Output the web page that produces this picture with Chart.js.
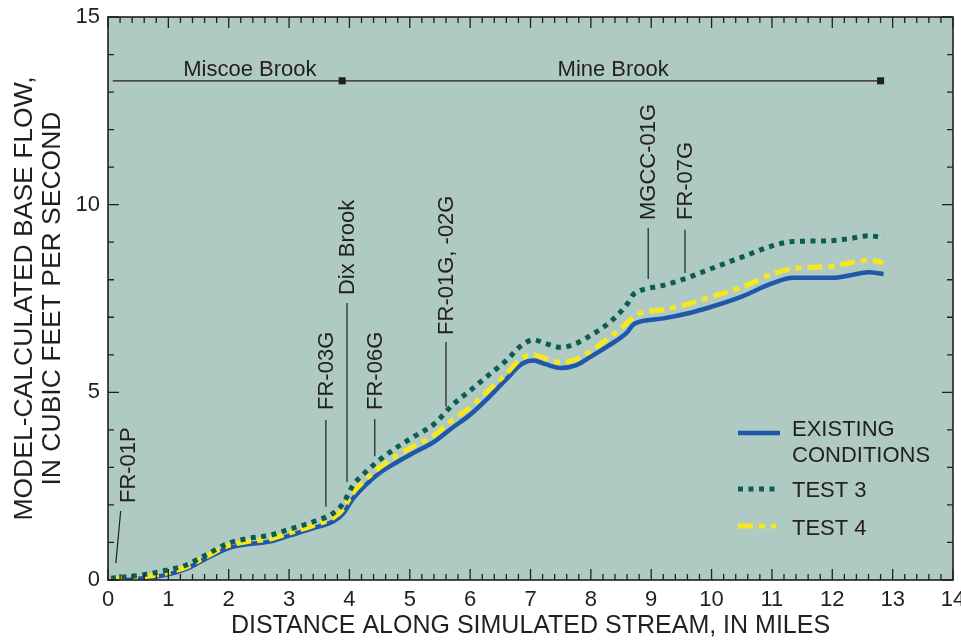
<!DOCTYPE html>
<html>
<head>
<meta charset="utf-8">
<script src="https://cdn.jsdelivr.net/npm/chart.js@4"></script>
<style>
  body { margin: 0; background: #ffffff; }
  #wrap { width: 961px; height: 641px; position: relative; }
</style>
</head>
<body>
<div id="wrap"><canvas id="flowChart"></canvas></div>
<script>
// distance along stream, miles (shared by all three series)
const miles = [0.05, 0.5, 1.0, 1.3, 1.6, 2.0, 2.3, 2.7, 3.0, 3.4, 3.75, 3.9, 4.05, 4.25, 4.5, 4.8, 5.1, 5.4, 5.7,
  6.0, 6.3, 6.6, 6.85, 7.05, 7.25, 7.5, 7.75, 8.0, 8.3, 8.6, 8.7, 8.8, 9.2, 9.6, 10.0, 10.5, 11.0, 11.35, 11.7,
  12.0, 12.3, 12.6, 12.85];

// base flow, cubic feet per second
const existingFlow = [-0.02, 0.03, 0.15, 0.3, 0.55, 0.85, 0.95, 1.03, 1.18, 1.38, 1.58, 1.78, 2.15, 2.5, 2.85, 3.15, 3.42,
  3.68, 4.05, 4.4, 4.85, 5.35, 5.75, 5.85, 5.75, 5.65, 5.72, 5.95, 6.25, 6.6, 6.8, 6.88, 6.97, 7.1, 7.28, 7.55,
  7.9, 8.05, 8.05, 8.05, 8.12, 8.2, 8.15];
const test3Flow = [0.05, 0.12, 0.27, 0.4, 0.65, 0.98, 1.1, 1.2, 1.35, 1.55, 1.8, 2.05, 2.5, 2.85, 3.2, 3.55, 3.85,
  4.15, 4.65, 5.05, 5.45, 5.85, 6.25, 6.4, 6.3, 6.2, 6.3, 6.52, 6.85, 7.35, 7.6, 7.7, 7.85, 8.05, 8.3, 8.6,
  8.9, 9.02, 9.03, 9.04, 9.1, 9.17, 9.12];
const test4Flow = [0.02, 0.07, 0.2, 0.35, 0.6, 0.92, 1.02, 1.1, 1.25, 1.45, 1.68, 1.9, 2.3, 2.65, 3.0, 3.32, 3.6,
  3.85, 4.25, 4.6, 5.05, 5.5, 5.9, 6.0, 5.9, 5.8, 5.88, 6.1, 6.45, 6.85, 7.0, 7.1, 7.2, 7.35, 7.55, 7.8,
  8.15, 8.3, 8.33, 8.36, 8.45, 8.52, 8.45];

// brook reaches: start, break between brooks, end (miles) and level (cfs)
const reachMiles = [0.08, 3.88, 12.8];
const reachLevel = 13.3;
const reachNames = [{ name: 'Miscoe Brook', at: 2.35 }, { name: 'Mine Brook', at: 8.37 }];

// site markers: mile, leader bottom / top, label bottom (cfs)
const sites = [
  { label: 'FR-03G', x: 3.61, y1: 1.95, y2: 4.26, ty: 4.53 },
  { label: 'Dix Brook', x: 3.96, y1: 2.61, y2: 7.38, ty: 7.59 },
  { label: 'FR-06G', x: 4.42, y1: 3.30, y2: 4.29, ty: 4.53 },
  { label: 'FR-01G, -02G', x: 5.6, y1: 4.61, y2: 6.34, ty: 6.53 },
  { label: 'MGCC-01G', x: 8.95, y1: 8.02, y2: 9.38, ty: 9.59 },
  { label: 'FR-07G', x: 9.56, y1: 8.18, y2: 9.33, ty: 9.59 }
];

const FONT = '"Liberation Sans", Arial, Helvetica, sans-serif';
const INK = '#231f20';
const BLUE = '#1f58a8';
const GREEN = '#0a5d50';
const YELLOW = '#f7e81e';

const pts = vals => miles.map((m, i) => ({ x: m, y: vals[i] }));

const decor = {
  id: 'decor',
  beforeDraw(chart) {
    const { ctx, chartArea: a } = chart;
    ctx.save();
    ctx.fillStyle = '#afc9c3';
    ctx.fillRect(a.left, a.top, a.right - a.left, a.bottom - a.top);
    ctx.restore();
  },
  afterDraw(chart) {
    const { ctx, chartArea: a, scales: { x, y } } = chart;
    ctx.save();
    ctx.strokeStyle = INK;
    ctx.fillStyle = INK;

    // frame
    ctx.lineWidth = 1.6;
    ctx.strokeRect(a.left, a.top, a.right - a.left, a.bottom - a.top);

    // inward ticks
    ctx.lineWidth = 1.3;
    ctx.beginPath();
    for (let i = 0; i <= 70; i++) {
      const px = x.getPixelForValue(i / 5);
      const len = i % 5 === 0 ? 11 : 6;
      ctx.moveTo(px, a.bottom); ctx.lineTo(px, a.bottom - len);
      ctx.moveTo(px, a.top); ctx.lineTo(px, a.top + len);
    }
    for (let v = 0; v <= 15; v++) {
      const py = y.getPixelForValue(v);
      const len = v % 5 === 0 ? 11 : 6;
      ctx.moveTo(a.left, py); ctx.lineTo(a.left + len, py);
      ctx.moveTo(a.right, py); ctx.lineTo(a.right - len, py);
    }
    ctx.stroke();

    ctx.font = '22px ' + FONT;

    // reach names
    ctx.textAlign = 'center';
    ctx.textBaseline = 'alphabetic';
    const ry = y.getPixelForValue(reachLevel);
    reachNames.forEach(r => ctx.fillText(r.name, x.getPixelForValue(r.at), ry - 5));

    // site leaders and labels
    ctx.lineWidth = 1.2;
    ctx.beginPath();
    ctx.moveTo(x.getPixelForValue(0.13), y.getPixelForValue(0.45));
    ctx.lineTo(x.getPixelForValue(0.21), y.getPixelForValue(1.84));
    sites.forEach(s => {
      const px = x.getPixelForValue(s.x);
      ctx.moveTo(px, y.getPixelForValue(s.y1));
      ctx.lineTo(px, y.getPixelForValue(s.y2));
    });
    ctx.stroke();

    ctx.textAlign = 'left';
    ctx.textBaseline = 'middle';
    const rotText = (txt, mx, my) => {
      ctx.save();
      ctx.translate(x.getPixelForValue(mx), y.getPixelForValue(my));
      ctx.rotate(-Math.PI / 2);
      ctx.fillText(txt, 0, 1);
      ctx.restore();
    };
    rotText('FR-01P', 0.33, 2.05);
    sites.forEach(s => rotText(s.label, s.x, s.ty));

    // legend
    const lx = 738;
    ctx.lineWidth = 4.5;
    ctx.strokeStyle = BLUE;
    ctx.beginPath(); ctx.moveTo(lx, 433); ctx.lineTo(lx + 42, 433); ctx.stroke();
    ctx.lineWidth = 5;
    ctx.strokeStyle = GREEN;
    ctx.setLineDash([5, 5.5]);
    ctx.beginPath(); ctx.moveTo(lx, 489); ctx.lineTo(lx + 38, 489); ctx.stroke();
    ctx.strokeStyle = YELLOW;
    ctx.setLineDash([15, 6, 6, 6]);
    ctx.beginPath(); ctx.moveTo(lx, 526); ctx.lineTo(lx + 38, 526); ctx.stroke();
    ctx.setLineDash([]);

    ctx.fillStyle = INK;
    ctx.fillText('EXISTING', 792, 430);
    ctx.fillText('CONDITIONS', 792, 456);
    ctx.fillText('TEST 3', 792, 491);
    ctx.fillText('TEST 4', 792, 529);
    ctx.restore();
  }
};

new Chart(document.getElementById('flowChart'), {
  type: 'line',
  data: {
    datasets: [
      {
        label: 'Reaches',
        data: reachMiles.map(m => ({ x: m, y: reachLevel })),
        borderColor: INK,
        borderWidth: 1.3,
        pointRadius: [0, 5, 5],
        pointStyle: 'rect',
        pointBackgroundColor: INK,
        pointBorderWidth: 0,
        tension: 0
      },
      {
        label: 'TEST 3',
        data: pts(test3Flow),
        borderColor: GREEN,
        borderWidth: 5,
        borderDash: [5, 5.5],
        borderCapStyle: 'butt',
        pointRadius: 0,
        cubicInterpolationMode: 'monotone'
      },
      {
        label: 'TEST 4',
        data: pts(test4Flow),
        borderColor: YELLOW,
        borderWidth: 5,
        borderDash: [15, 6, 6, 6],
        borderCapStyle: 'butt',
        pointRadius: 0,
        cubicInterpolationMode: 'monotone'
      },
      {
        label: 'EXISTING CONDITIONS',
        data: pts(existingFlow),
        borderColor: BLUE,
        borderWidth: 4.5,
        pointRadius: 0,
        cubicInterpolationMode: 'monotone'
      }
    ]
  },
  options: {
    responsive: true,
    maintainAspectRatio: false,
    animation: false,
    layout: { padding: { top: 17, right: 8, left: 0, bottom: 0 } },
    plugins: { legend: { display: false }, tooltip: { enabled: false } },
    scales: {
      x: {
        type: 'linear',
        min: 0,
        max: 14,
        grid: { display: false, drawTicks: false },
        border: { display: false },
        ticks: { stepSize: 1, padding: 7, color: INK, font: { family: FONT, size: 22 } },
        title: {
          display: true,
          text: 'DISTANCE ALONG SIMULATED STREAM, IN MILES',
          color: INK,
          font: { family: FONT, size: 25 },
          padding: 0
        },
        afterFit: s => { s.height = 61; s.paddingLeft = 0; s.paddingRight = 0; }
      },
      y: {
        min: 0,
        max: 15,
        grid: { display: false, drawTicks: false },
        border: { display: false },
        ticks: { stepSize: 5, padding: 8, color: INK, font: { family: FONT, size: 22 } },
        title: {
          display: true,
          text: ['MODEL-CALCULATED BASE FLOW,', 'IN CUBIC FEET PER SECOND'],
          color: INK,
          font: { family: FONT, size: 26.5, lineHeight: 1.03 },
          padding: { top: 11.5, bottom: 0 }
        },
        afterFit: s => { s.width = 108; s.paddingTop = 0; s.paddingBottom = 0; }
      }
    }
  },
  plugins: [decor]
});
</script>
</body>
</html>
